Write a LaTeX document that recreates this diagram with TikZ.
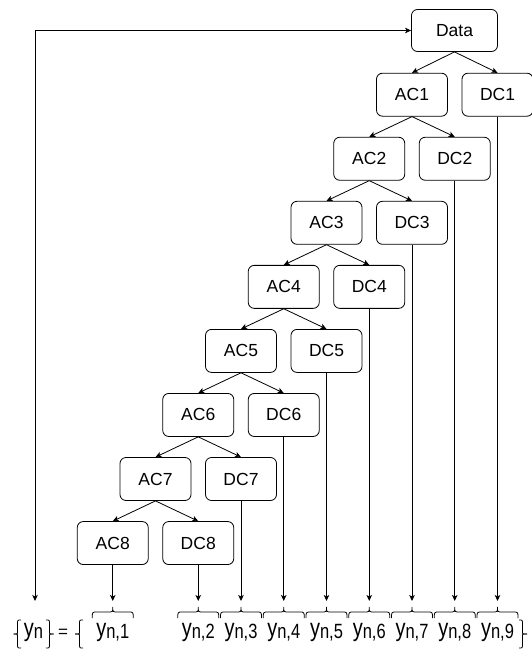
\documentclass[tikz,border=0pt]{standalone}
\usepackage{fontspec}
\usepackage{graphicx}
\setmainfont{Liberation Sans}
\usetikzlibrary{arrows.meta}
% y with a lowered index, set slightly tall
\newcommand\ysb[1]{\scalebox{1}[1.25]{\fontsize{20}{22}\selectfont y\raisebox{-2.2pt}{\fontsize{16.5}{17}\selectfont #1}}}

\begin{document}
\begin{tikzpicture}[x=1pt,y=-1pt,
  box/.style={draw, rounded corners=6pt, minimum width=71pt, minimum height=43pt,
    inner sep=0pt, font=\fontsize{17.5}{20}\selectfont, line width=0.8pt},
  link/.style={draw, line width=0.8pt, -{Stealth[length=6pt,width=5.5pt,inset=1.5pt]}},
  lbl/.style={inner sep=0pt, anchor=base},
  brc/.style={draw, line width=0.8pt}]
\useasboundingbox (0,0) rectangle (532,650);

% cascade of approximation / detail blocks
\node[box, minimum width=86pt, minimum height=42pt] (data) at (454.5,30.5) {Data};
\foreach \i in {1,...,8}{
  \pgfmathsetmacro\ax{412-42.75*(\i-1)}
  \pgfmathsetmacro\ay{94.7+64.05*(\i-1)}
  \node[box] (ac\i) at (\ax,\ay) {AC\i};
  \node[box] (dc\i) at (\ax+85.5,\ay) {DC\i};
}

\draw[link] (data.south) -- (ac1.north);
\draw[link] (data.south) -- (dc1.north);
\foreach \i [evaluate=\i as \j using int(\i+1)] in {1,...,7}{
  \draw[link] (ac\i.south) -- (ac\j.north);
  \draw[link] (ac\i.south) -- (dc\j.north);
}

% output row
\coordinate (base) at (0,601);
\coordinate (tip1) at (ac8.south |- base);
\foreach \i [evaluate=\i as \k using int(10-\i)] in {1,...,8}{
  \coordinate (tip\k) at (dc\i.south |- base);
}
\draw[link] (ac8.south) -- (tip1);
\foreach \i [evaluate=\i as \k using int(10-\i)] in {1,...,8}{
  \draw[link] (dc\i.south) -- (tip\k);
}

% loop back from the result to the input
\coordinate (back) at (35,601);
\draw[link, {Stealth[length=6pt,width=5.5pt,inset=1.5pt]}-{Stealth[length=6pt,width=5.5pt,inset=1.5pt]}]
  (back) -- (back |- data.west) -- (data.west);

% output labels with their over-braces
\foreach \k in {1,...,9}{
  \pgfmathsetmacro\cx{ifthenelse(\k==1,112.75,198.25+42.75*(\k-2))}
  \node[lbl] (y\k) at (\cx,636) {\ysb{n,\k}};
  \draw[brc] (\cx-20.5,618) .. controls (\cx-20.5,612) .. (\cx-15.5,612) -- (\cx-5,612)
    .. controls (\cx,612) .. (\cx,607) .. controls (\cx,612) .. (\cx+5,612)
    -- (\cx+15.5,612) .. controls (\cx+20.5,612) .. (\cx+20.5,618);
}

% {y_n} = { ... }
\node[lbl] (yn) at (33.5,636) {\ysb{n}};
\node[inner sep=0pt, font=\fontsize{17}{20}\selectfont] (eq) at (63,633) {=};
\draw[brc] (21,620) .. controls (17.5,620) .. (17.5,624) -- (17.5,630.5) .. controls (17.5,634) .. (16,634) -- (13.5,634);
\draw[brc] (13.5,634) -- (16,634) .. controls (17.5,634) .. (17.5,637.5) -- (17.5,644) .. controls (17.5,648) .. (21,648);
\draw[brc] (46,620) .. controls (49.5,620) .. (49.5,624) -- (49.5,630.5) .. controls (49.5,634) .. (51,634) -- (53.5,634);
\draw[brc] (53.5,634) -- (51,634) .. controls (49.5,634) .. (49.5,637.5) -- (49.5,644) .. controls (49.5,648) .. (46,648);
\draw[brc] (83,620) .. controls (79.5,620) .. (79.5,624) -- (79.5,630.5) .. controls (79.5,634) .. (78,634) -- (75,634);
\draw[brc] (75,634) -- (78,634) .. controls (79.5,634) .. (79.5,637.5) -- (79.5,644) .. controls (79.5,648) .. (83,648);
\draw[brc] (519,620) .. controls (522.5,620) .. (522.5,624) -- (522.5,630.5) .. controls (522.5,634) .. (524,634) -- (527,634);
\draw[brc] (527,634) -- (524,634) .. controls (522.5,634) .. (522.5,637.5) -- (522.5,644) .. controls (522.5,648) .. (519,648);
\end{tikzpicture}
\end{document}
